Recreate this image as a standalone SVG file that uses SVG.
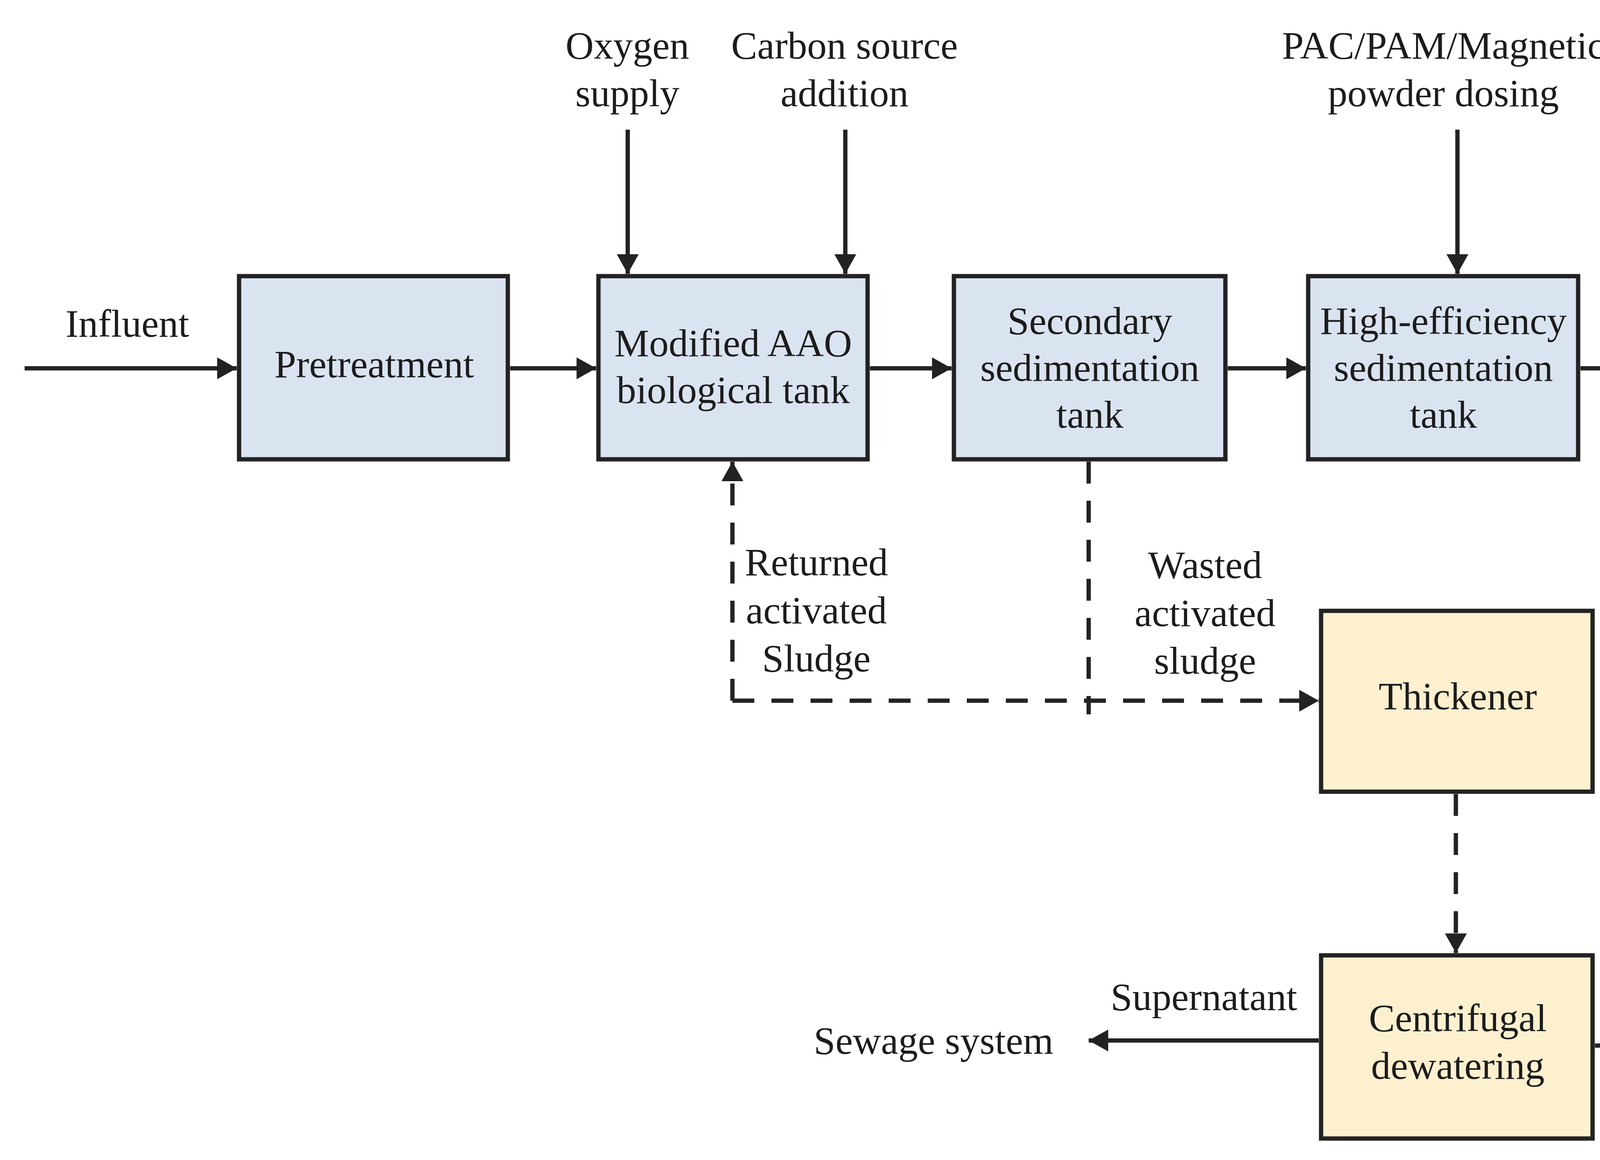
<svg xmlns="http://www.w3.org/2000/svg" width="6533" height="2970" viewBox="0 0 6533 2970">
<style>
  text { font-family: "Liberation Serif", "Times New Roman", serif; font-size: 100px; fill: #1c1c1c; text-anchor: middle; }
  .start { text-anchor: start; }
  .blue { fill: #dae3f0; stroke: #222; stroke-width: 11; }
  .yellow { fill: #fdf0cf; stroke: #222; stroke-width: 11; }
  .flow { fill: none; stroke: #222; stroke-width: 11; marker-end: url(#arrow); }
  .dash { fill: none; stroke: #222; stroke-width: 11; stroke-dasharray: 56 44; }
  .dashArrow { fill: none; stroke: #222; stroke-width: 11; stroke-dasharray: 56 44; marker-end: url(#arrow); }
</style>
<defs>
  <marker id="arrow" markerUnits="userSpaceOnUse" markerWidth="50" markerHeight="56" refX="50" refY="28" orient="auto" viewBox="0 0 50 56">
    <path d="M0,0 L50,28 L0,56 z" fill="#222"/>
  </marker>
</defs>
<rect x="0" y="0" width="6533" height="2970" fill="#ffffff"/>

<g id="connectors">
  <path class="flow" d="M63,943 L606,943"/>
  <path class="flow" d="M1306,943 L1526,943"/>
  <path class="flow" d="M2227,943 L2436,943"/>
  <path class="flow" d="M3143,943 L3343,943"/>
  <path class="flow" d="M4046,943 L4299,943"/>
  <path class="flow" d="M4977,943 L5188,943"/>
  <path class="flow" d="M5895,943 L6070,943"/>
  <path class="flow" d="M1607,332 L1607,701"/>
  <path class="flow" d="M2164,332 L2164,701"/>
  <path class="flow" d="M3731,332 L3731,701"/>
  <path class="flow" d="M5540,336 L5540,701"/>
  <path class="dash" d="M2787,1182 L2787,1829"/>
  <path class="dashArrow" d="M1875,1794 L3376,1794"/>
  <path class="dashArrow" d="M1875,1794 L1875,1182"/>
  <path class="dashArrow" d="M3727,2033 L3727,2440"/>
  <path class="dashArrow" d="M4083,2677 L4289,2677"/>
  <path class="dashArrow" d="M4994,2677 L5186,2677"/>
  <path class="flow" d="M3376,2664 L2787,2664"/>
</g>

<g id="labels">
  <text x="326" y="862">Influent</text>
  <text class="start" x="6166" y="966">Effluent</text>
  <text x="1606" y="150">Oxygen</text>
  <text x="1606" y="272">supply</text>
  <text x="2162" y="150">Carbon source</text>
  <text x="2162" y="272">addition</text>
  <text x="3695" y="150">PAC/PAM/Magnetic</text>
  <text x="3695" y="272">powder dosing</text>
  <text x="5538" y="150">Sodium hypochlorite</text>
  <text x="5538" y="272">dosing</text>
  <text x="2090" y="1473">Returned</text>
  <text x="2090" y="1596">activated</text>
  <text x="2090" y="1719">Sludge</text>
  <text x="3085" y="1480">Wasted</text>
  <text x="3085" y="1603">activated</text>
  <text x="3085" y="1725">sludge</text>
  <text x="3082" y="2586">Supernatant</text>
  <text x="2390" y="2698">Sewage system</text>
  <text x="5805" y="2637">Sludge transport</text>
  <text x="5805" y="2760">(moisture content &lt; 60%)</text>
</g>

<g id="pretreatment">
  <rect class="blue" x="612" y="707" width="688" height="469"/>
  <text x="958" y="966">Pretreatment</text>
</g>
<g id="aao">
  <rect class="blue" x="1532" y="707" width="689" height="469"/>
  <text x="1877" y="912">Modified AAO</text>
  <text x="1877" y="1032">biological tank</text>
</g>
<g id="secondary">
  <rect class="blue" x="2442" y="707" width="695" height="469"/>
  <text x="2790" y="855">Secondary</text>
  <text x="2790" y="975">sedimentation</text>
  <text x="2790" y="1095">tank</text>
</g>
<g id="high-efficiency">
  <rect class="blue" x="3349" y="707" width="691" height="469"/>
  <text x="3695" y="855">High-efficiency</text>
  <text x="3695" y="975">sedimentation</text>
  <text x="3695" y="1095">tank</text>
</g>
<g id="cloth-filter">
  <rect class="blue" x="4305" y="707" width="666" height="469"/>
  <text x="4638" y="966">Cloth filter bed</text>
</g>
<g id="contact-disinfection">
  <rect class="blue" x="5194" y="707" width="695" height="469"/>
  <text x="5541" y="855">Contact</text>
  <text x="5541" y="975">disinfection</text>
  <text x="5541" y="1095">tank</text>
</g>
<g id="thickener">
  <rect class="yellow" x="3382" y="1564" width="695" height="463"/>
  <text x="3732" y="1816">Thickener</text>
</g>
<g id="centrifugal">
  <rect class="yellow" x="3382" y="2446" width="695" height="469"/>
  <text x="3732" y="2640">Centrifugal</text>
  <text x="3732" y="2762">dewatering</text>
</g>
<g id="drying">
  <rect class="yellow" x="4295" y="2446" width="693" height="469"/>
  <text x="4641" y="2592">Low-</text>
  <text x="4641" y="2712">temperature</text>
  <text x="4641" y="2832">drying</text>
</g>
</svg>
